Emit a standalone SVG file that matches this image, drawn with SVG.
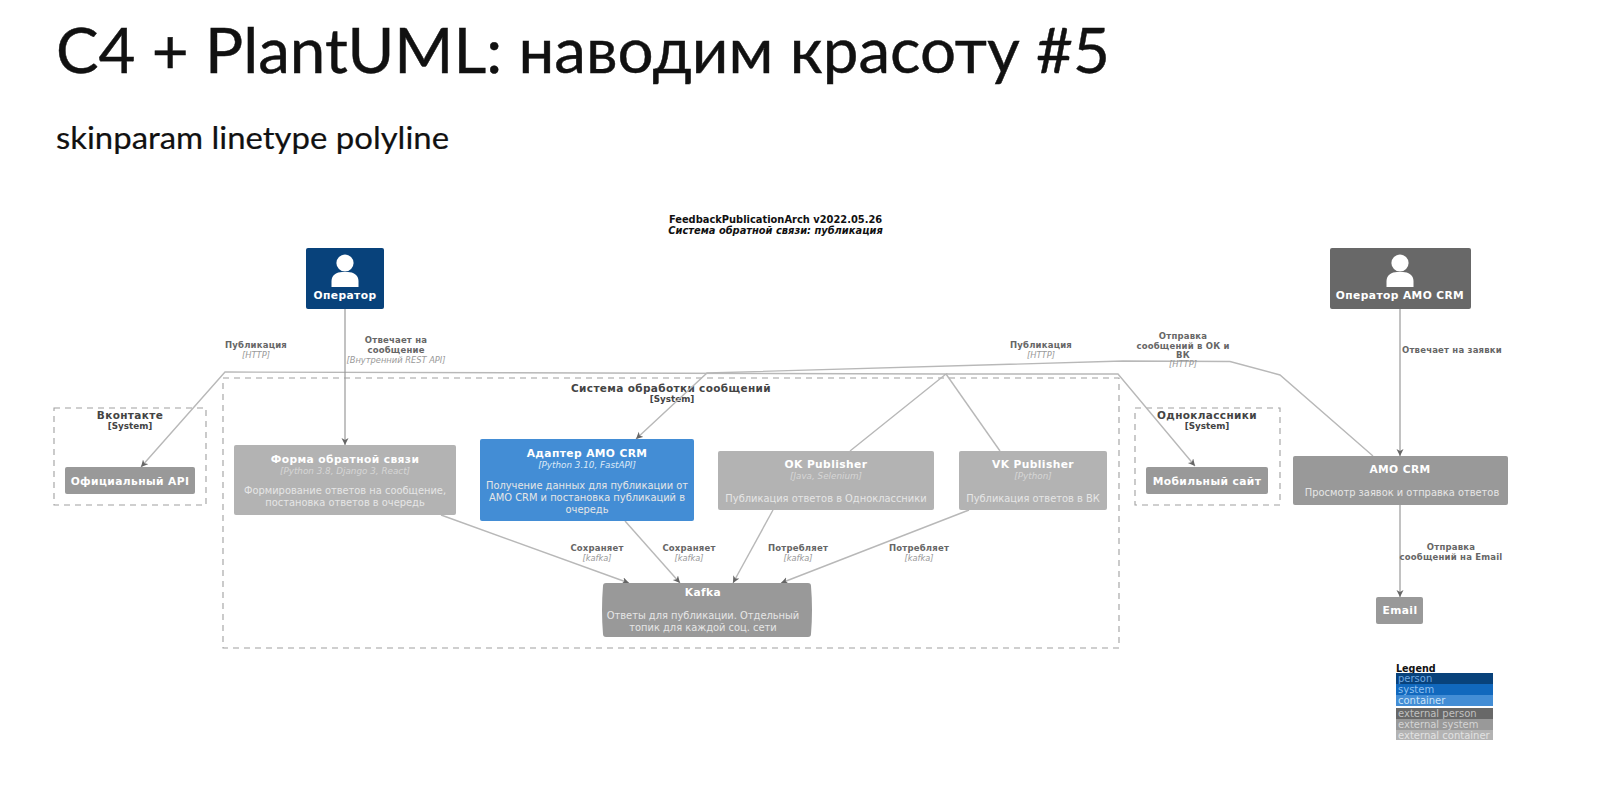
<svg xmlns="http://www.w3.org/2000/svg" width="1600" height="796" viewBox="0 0 1600 796">
<style>
text{font-family:"DejaVu Sans","Noto Sans",sans-serif;text-anchor:middle}
.head{font-family:Lato,"Open Sans","Noto Sans",sans-serif;text-anchor:start;fill:#111;stroke:#111;stroke-width:.45}
.dt{font-size:9.9px;font-weight:bold;fill:#111}
.dti{font-style:italic}
.bt{font-size:10.7px;font-weight:bold;fill:#fff;letter-spacing:.4px}
.tech{font-size:8.8px;font-style:italic;fill:#d6d6d6}
.desc{font-size:9.9px;fill:#e6e6e6}
.cont{font-size:10.5px;font-weight:bold;fill:#444;letter-spacing:.35px}
.sys{font-size:8.8px;font-weight:bold;fill:#444}
.rl{font-size:8.5px;font-weight:bold;fill:#666;letter-spacing:.2px}
.rt{font-size:8.3px;font-style:italic;fill:#999}
.bd{fill:none;stroke:#a0a0a0;stroke-width:1.1;stroke-dasharray:6 5}
.ln{fill:none;stroke:#b8b8b8;stroke-width:1.4}
.ar{marker-end:url(#a)}
.ld{fill:none;stroke:#999;stroke-width:1.2;marker-end:url(#a)}
.lg{font-size:10px;text-anchor:start}
</style>
<defs>
<marker id="a" markerWidth="8" markerHeight="8" refX="7" refY="3.500" orient="auto" markerUnits="userSpaceOnUse"><path d="M0 0L7 3.500L0 7L2 3.500Z" fill="#666"/></marker>
<g id="p"><circle cx="0" cy="-9" r="8.600" fill="#fff"/><path d="M-13.500 15V9C-13.500 3-8 0-3 0H3C8 0 13.500 3 13.500 9V15Z" fill="#fff"/></g>
</defs>
<g id="heading">
<text class="head" x="56" y="72.500" font-size="62" textLength="1054" lengthAdjust="spacingAndGlyphs">C4 + PlantUML: наводим красоту #5</text>
<text class="head" x="56" y="149" font-size="31" textLength="393" lengthAdjust="spacingAndGlyphs" style="stroke-width:.2">skinparam linetype polyline</text>
</g>
<g id="diagram-title">
<text class="dt" x="775.500" y="222.500">FeedbackPublicationArch v2022.05.26</text>
<text class="dt dti" x="775.500" y="234">Система обратной связи: публикация</text>
</g>
<g id="boundaries">
<rect id="b-vk" class="bd" x="54" y="408" width="152" height="97"/>
<rect id="b-sys" class="bd" x="223" y="378" width="896" height="270"/>
<rect id="b-ok" class="bd" x="1135" y="408" width="145" height="97"/>
<text class="cont" x="130" y="419">Вконтакте</text><text class="sys" x="130" y="429">[System]</text>
<text class="cont" x="671" y="392">Система обработки сообщений</text><text class="sys" x="672" y="402">[System]</text>
<text class="cont" x="1207" y="419">Одноклассники</text><text class="sys" x="1207" y="429">[System]</text>
</g>
<g id="connectors">
<path class="ln ar" d="M850 451L946 374L225 372L141 467"/>
<path class="ln" d="M1000 451L946 374"/>
<path class="ln ar" d="M946 374L1118 374L1195 466"/>
<path class="ln ar" d="M1373 456L1280 375L1230 361.500L1123 361L707 373L636 439"/>
<path class="ld" d="M345 309V445"/>
<path class="ld" d="M1400 309V456"/>
<path class="ld" d="M1400 505V597"/>
<path class="ln ar" d="M441 515L629 583"/>
<path class="ln ar" d="M625 521L680 583"/>
<path class="ln ar" d="M773 510L733 583"/>
<path class="ln ar" d="M969 510L781 583"/>
<text class="rl" x="256" y="348">Публикация</text><text class="rt" x="256" y="358">[HTTP]</text>
<text class="rl" x="396" y="343">Отвечает на</text><text class="rl" x="396" y="353">сообщение</text><text class="rt" x="396" y="363">[Внутренний REST API]</text>
<text class="rl" x="1041" y="348">Публикация</text><text class="rt" x="1041" y="358">[HTTP]</text>
<text class="rl" x="1183" y="338.500">Отправка</text><text class="rl" x="1183" y="348.500">сообщений в ОК и</text><text class="rl" x="1183" y="358">ВК</text><text class="rt" x="1183" y="367">[HTTP]</text>
<text class="rl" x="1452" y="353">Отвечает на заявки</text>
<text class="rl" x="1451" y="550">Отправка</text><text class="rl" x="1451" y="560">сообщений на Email</text>
<text class="rl" x="597" y="551">Сохраняет</text><text class="rt" x="597" y="561">[kafka]</text>
<text class="rl" x="689" y="551">Сохраняет</text><text class="rt" x="689" y="561">[kafka]</text>
<text class="rl" x="798" y="551">Потребляет</text><text class="rt" x="798" y="561">[kafka]</text>
<text class="rl" x="919" y="551">Потребляет</text><text class="rt" x="919" y="561">[kafka]</text>
</g>
<g id="operator"><rect x="306" y="248" width="78" height="61" rx="2" fill="#08427b"/><use href="#p" transform="translate(345 272)"/><text class="bt" x="345" y="299">Оператор</text></g>
<g id="operator-amo"><rect x="1330" y="248" width="141" height="61" rx="2" fill="#686868"/><use href="#p" transform="translate(1400 272)"/><text class="bt" x="1400" y="299">Оператор AMO CRM</text></g>
<g id="vk-api"><rect x="65" y="467" width="130" height="27" rx="2" fill="#999"/><text class="bt" x="130" y="485">Официальный API</text></g>
<g id="form"><rect x="234" y="445" width="222" height="70" rx="2" fill="#b3b3b3"/><text class="bt" x="345" y="463">Форма обратной связи</text><text class="tech" x="345" y="474">[Python 3.8, Django 3, React]</text><text class="desc" x="345" y="494">Формирование ответов на сообщение,</text><text class="desc" x="345" y="506">постановка ответов в очередь</text></g>
<g id="adapter"><rect x="480" y="439" width="214" height="82" rx="2" fill="#438dd5"/><text class="bt" x="587" y="457">Адаптер AMO CRM</text><text class="tech" x="587" y="468" style="fill:#dbe9f7">[Python 3.10, FastAPI]</text><text class="desc" x="587" y="489">Получение данных для публикации от</text><text class="desc" x="587" y="501">AMO CRM и постановка публикаций в</text><text class="desc" x="587" y="513">очередь</text></g>
<g id="ok-pub"><rect x="718" y="451" width="216" height="59" rx="2" fill="#b3b3b3"/><text class="bt" x="826" y="468">OK Publisher</text><text class="tech" x="826" y="479">[Java, Selenium]</text><text class="desc" x="826" y="502">Публикация ответов в Одноклассники</text></g>
<g id="vk-pub"><rect x="959" y="451" width="148" height="59" rx="2" fill="#b3b3b3"/><text class="bt" x="1033" y="468">VK Publisher</text><text class="tech" x="1033" y="479">[Python]</text><text class="desc" x="1033" y="502">Публикация ответов в ВК</text></g>
<g id="mobile"><rect x="1146" y="467" width="122" height="27" rx="2" fill="#999"/><text class="bt" x="1207" y="485">Мобильный сайт</text></g>
<g id="amo"><rect x="1293" y="456" width="215" height="49" rx="2" fill="#999"/><text class="bt" x="1400" y="473">AMO CRM</text><text class="desc" x="1402" y="496">Просмотр заявок и отправка ответов</text></g>
<g id="kafka"><path d="M606 583H808Q811 583 811 586Q813 610 811 634Q811 637 808 637H606Q603 637 603 634Q601 610 603 586Q603 583 606 583Z" fill="#999"/><text class="bt" x="703" y="596">Kafka</text><text class="desc" x="703" y="619">Ответы для публикации. Отдельный</text><text class="desc" x="703" y="631">топик для каждой соц. сети</text></g>
<g id="email"><rect x="1376" y="597" width="47" height="27" rx="2" fill="#999"/><text class="bt" x="1400" y="614">Email</text></g>
<g id="legend">
<text x="1396" y="672" style="font-size:9.6px;font-weight:bold;fill:#111;text-anchor:start">Legend</text>
<rect x="1396" y="673" width="97" height="11" fill="#08427b"/><rect x="1396" y="684" width="97" height="11" fill="#1168bd"/><rect x="1396" y="695" width="97" height="11" fill="#438dd5"/><rect x="1396" y="708" width="97" height="11" fill="#686868"/><rect x="1396" y="719" width="97" height="11" fill="#999"/><rect x="1396" y="730" width="97" height="10" fill="#b3b3b3"/>
<text class="lg" x="1398" y="682" fill="#6fa8e0">person</text><text class="lg" x="1398" y="693" fill="#8fc0f0">system</text><text class="lg" x="1398" y="704" fill="#c9e2f8">container</text><text class="lg" x="1398" y="717" fill="#c0c0c0">external person</text><text class="lg" x="1398" y="728" fill="#d4d4d4">external system</text><text class="lg" x="1398" y="738.500" fill="#e2e2e2">external container</text>
</g>
</svg>
